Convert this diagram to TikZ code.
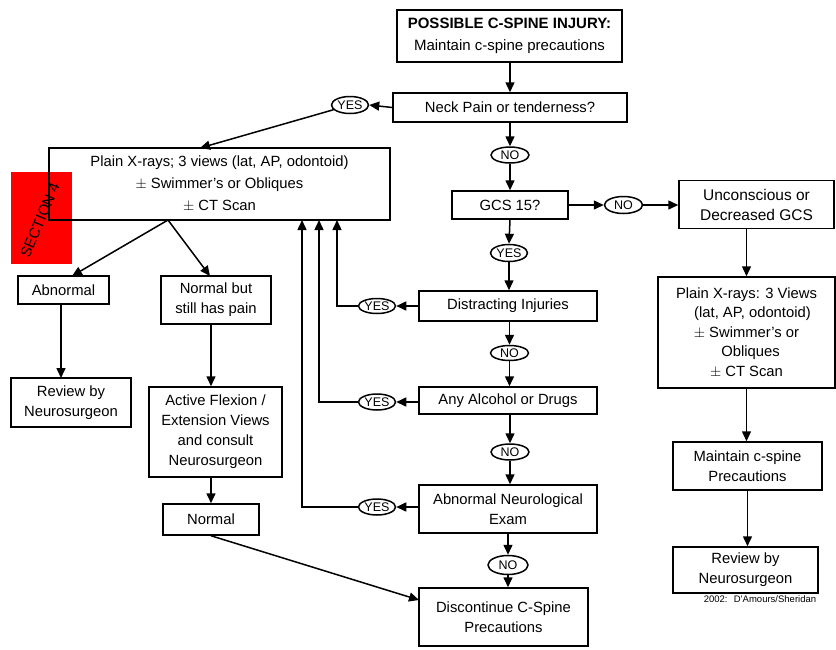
\documentclass[tikz,border=0pt]{standalone}
\usepackage{fontspec}
\setmainfont{Liberation Sans}
\usetikzlibrary{arrows.meta,shapes.geometric,calc}
\tikzset{
  box/.style={draw, line width=1.5pt, inner sep=1pt, align=center,
    font=\fontsize{14.8}{20}\selectfont},
  yn/.style={draw, ellipse, line width=1.5pt, inner sep=0pt,
    font=\fontsize{12.5}{13}\selectfont},
  arr/.style={line width=1.5pt, -{Triangle[length=10pt,width=9pt]}},
  ln/.style={line width=1.5pt}
}
\begin{document}
\begin{tikzpicture}[x=1pt,y=-1pt]
\path[use as bounding box] (0,0) rectangle (836,649);
% red tag
\fill[red] (11,172) rectangle (72,264);
\node[rotate=67, font=\fontsize{15}{15}\selectfont, inner sep=0pt] (sec) at (40,220) {SECTION 4};
% boxes
\node[box, minimum width=225, minimum height=52, font=\fontsize{15}{22}\selectfont] (top) at (509.5,36)
  {\textbf{POSSIBLE C-SPINE INJURY:}\\Maintain c-spine precautions};
\node[box, minimum width=234, minimum height=29] (neck) at (510,107.5) {Neck Pain or tenderness?};
\node[box, minimum width=341, minimum height=72, font=\fontsize{14.8}{22}\selectfont] (px1) at (219.5,184)
  {Plain X-rays; 3 views (lat, AP, odontoid)\\$\pm$ Swimmer’s or Obliques\\$\pm$ CT Scan};
\node[box, minimum width=116, minimum height=28] (gcs) at (510,205) {GCS 15?};
\node[box, minimum width=155, minimum height=48, font=\fontsize{15.5}{20}\selectfont] (unc) at (756.5,204.5) {Unconscious or\\Decreased GCS};
\node[box, minimum width=177, minimum height=111, font=\fontsize{14.8}{19.5}\selectfont] (px2) at (746.5,332.5)
  {Plain X-rays: 3 Views\\\hspace*{12pt}(lat, AP, odontoid)\\$\pm$ Swimmer’s or\\\hspace*{8pt}Obliques\\$\pm$ CT Scan};
\node[box, minimum width=149, minimum height=48] (maint) at (747.5,466) {Maintain c-spine\\Precautions};
\node[box, minimum width=145, minimum height=46] (rev2) at (745.5,570) {Review by\\Neurosurgeon};
\node[box, minimum width=178, minimum height=30] (distr) at (508,306) {Distracting Injuries};
\node[box, minimum width=178, minimum height=27] (alc) at (508,400.5) {Any Alcohol or Drugs};
\node[box, minimum width=178, minimum height=48] (neuro) at (508,509) {Abnormal Neurological\\Exam};
\node[box, minimum width=169, minimum height=58] (disc) at (503.5,617) {Discontinue C-Spine\\Precautions};
\node[box, minimum width=91, minimum height=28] (abn) at (63.5,290) {Abnormal};
\node[box, minimum width=120, minimum height=49] (rev1) at (71,402.5) {Review by\\Neurosurgeon};
\node[box, minimum width=110, minimum height=48] (npain) at (216,300) {Normal but\\still has pain};
\node[box, minimum width=133, minimum height=90] (active) at (215.5,432) {Active Flexion /\\Extension Views\\and consult\\Neurosurgeon};
\node[box, minimum width=96, minimum height=31] (normal) at (211,519.5) {Normal};
% yes/no ellipses
\node[yn, minimum width=37, minimum height=17] (yes1) at (350,105) {YES};
\node[yn, minimum width=38, minimum height=16] (no1) at (510,155) {NO};
\node[yn, minimum width=37, minimum height=17] (yes2) at (509,253) {YES};
\node[yn, minimum width=38, minimum height=17] (no2) at (623.5,205) {NO};
\node[yn, minimum width=37, minimum height=15] (yes3) at (377,306) {YES};
\node[yn, minimum width=38, minimum height=15] (no3) at (509.5,353) {NO};
\node[yn, minimum width=37, minimum height=16] (yes4) at (377,402) {YES};
\node[yn, minimum width=38, minimum height=16] (no4) at (510,452) {NO};
\node[yn, minimum width=37, minimum height=16] (yes5) at (377,507) {YES};
\node[yn, minimum width=40, minimum height=19] (no5) at (508,565) {NO};
% footnote
\node[font=\fontsize{9.5}{10}\selectfont, inner sep=0pt] (foot) at (760,599) {2002:~ D’Amours/Sheridan};
% coordinates
\coordinate (t1) at (200,148);
\coordinate (s1) at (168,220);
\coordinate (ta) at (72,276);
\coordinate (tn) at (210,276);
\coordinate (c1) at (302,220);
\coordinate (c2) at (319,220);
\coordinate (c3) at (337,220);
\coordinate (td) at (419,600);
% connectors: centre column
\draw[arr] (top.south -| neck.north) -- (neck.north);
\draw[arr] (neck.south) -- (no1.north);
\draw[arr] (no1.south) -- (gcs.north);
\draw[arr] (gcs.south) -- (yes2.north);
\draw[arr] (yes2.south) -- (yes2.south |- distr.north);
\draw[arr] (distr.south -| no3.south) -- (no3.north);
\draw[arr] (no3.south) -- (no3.south |- alc.north);
\draw[arr] (alc.south -| no4.south) -- (no4.north);
\draw[arr] (no4.south) -- (no4.south |- neuro.north);
\draw[arr] (neuro.south) -- (no5.north);
\draw[arr] (no5.south) -- (no5.south |- disc.north);
% GCS no branch
\draw[arr] (gcs.east) -- (no2.west);
\draw[arr] (no2.east) -- (no2.east -| unc.west);
\draw[arr] (px2.north |- unc.south) -- (px2.north);
\draw[arr] (px2.south) -- (px2.south |- maint.north);
\draw[arr] (maint.south) -- (maint.south |- rev2.north);
% yes branches
\draw[arr] (neck.west) -- (yes1.east);
\draw[arr] (yes1) -- (t1);
\draw[arr] (distr.west) -- (yes3.east);
\draw[arr] (yes3.west) -| (c3);
\draw[arr] (alc.west |- yes4) -- (yes4.east);
\draw[arr] (yes4.west) -| (c2);
\draw[arr] (neuro.west |- yes5) -- (yes5.east);
\draw[arr] (yes5.west) -| (c1);
% left part
\draw[arr] (s1) -- (ta);
\draw[arr] (s1) -- (tn);
\draw[arr] (61,304) -- (61,378);
\draw[arr] (npain.south -| normal.north) -- (active.north -| normal.north);
\draw[arr] (active.south -| normal.north) -- (normal.north);
\draw[arr] (normal.south) -- (td);
\end{tikzpicture}
\end{document}
